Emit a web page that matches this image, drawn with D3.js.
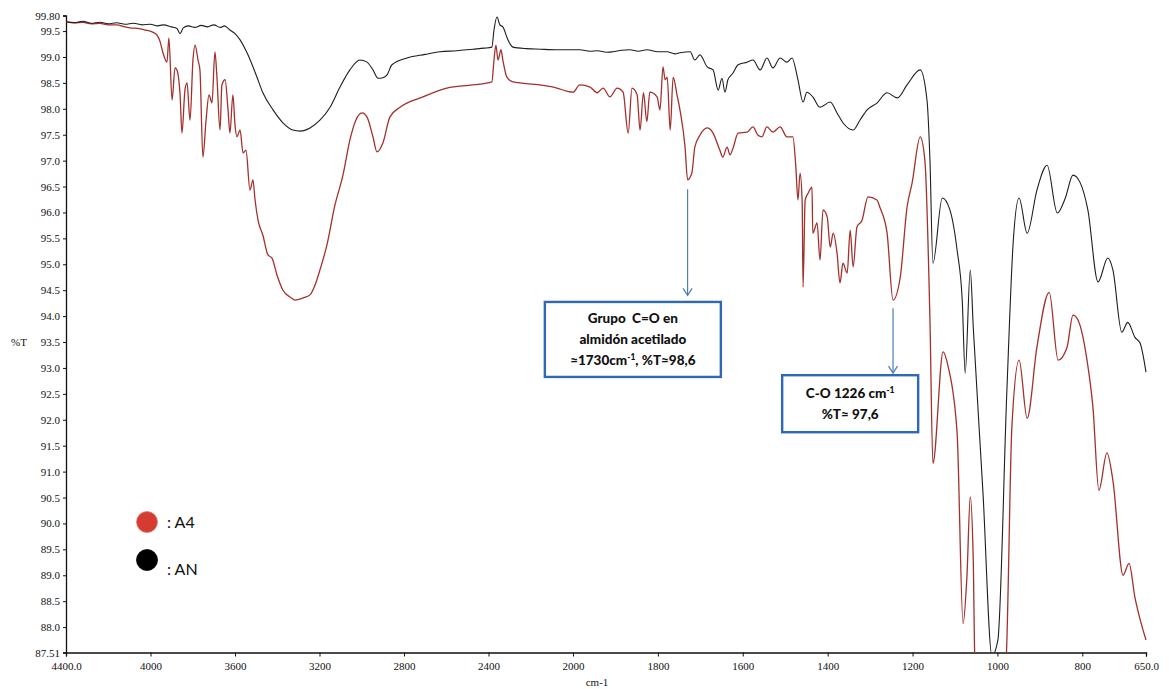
<!DOCTYPE html>
<html>
<head>
<meta charset="utf-8">
<script src="https://cdn.jsdelivr.net/npm/d3@7"></script>
<style>
  body { margin: 0; background: #fff; }
  svg { display: block; }
  .note text { white-space: pre; }
</style>
</head>
<body>
<svg id="chart" width="1169" height="689"></svg>
<script>
// FTIR spectra: native starch (AN) and acetylated starch (A4)
const anWavenumber = [4400,4360,4320,4280,4240,4200,4160,4120,4080,4040,4000,3970,3940,3900,3875,3860,3845,3820,3790,3760,3730,3700,3670,3650,3624,3600,3576,3543,3496,3468,3420,3373,3326,3292,3245,3198,3150,3103,3056,3009,2975,2947,2923,2900,2881,2857,2786,2700,2630,2550,2474,2420,2384,2374,2360,2346,2332,2308,2284,2220,2157,2080,2000,
  1984,1960,1943,1920,1906,1885,1866,1846,1826,1800,1778,1760,1748,1724,1713,1701,1684,1670,1658,1649,1642,1635,1623,1611,1590,1576,1559,1543,1529,1512,1496,1484,1470,1458,1449,1435,1418,1394,1378,1364,1340,1324,1307,1284,1260,1236,1213,1182,1166,1159,1152,1130,1112,1095,1083,1076,1064,1057,1034,1013,999,978,963,949,930,907,883,859,840,822,806,787,763,740,728,707,693,676,664,650];
const anTransmittance = [99.68,99.66,99.69,99.65,99.67,99.64,99.66,99.63,99.65,99.62,99.63,99.60,99.62,99.58,99.55,99.45,99.56,99.60,99.57,99.61,99.58,99.62,99.57,99.60,99.52,99.45,99.33,99.08,98.61,98.31,97.98,97.73,97.59,97.57,97.63,97.78,98.03,98.42,98.75,98.94,98.90,98.75,98.59,98.60,98.65,98.85,98.98,99.05,99.10,99.12,99.15,99.17,99.19,99.52,99.77,99.62,99.58,99.33,99.19,99.16,99.15,99.14,99.14,
  99.14,99.11,99.12,99.09,99.10,99.13,99.14,99.11,99.14,99.10,99.10,99.06,99.08,99.10,98.94,99.04,98.81,98.75,98.36,98.59,98.32,98.56,98.69,98.85,98.90,98.94,98.75,98.98,98.79,98.98,98.90,98.98,98.56,98.13,98.32,98.23,98.03,98.13,97.92,97.73,97.59,97.78,97.98,98.11,98.31,98.21,98.46,98.75,98.17,97.01,95.02,96.28,96.05,95.27,94.31,92.90,94.89,93.79,90.58,87.45,87.75,92.51,95.41,96.28,95.60,96.43,96.91,95.99,96.28,96.72,96.59,96.05,94.66,95.12,94.89,93.69,93.88,93.59,93.48,92.92];

const a4Wavenumber = [4400,4360,4320,4280,4240,4200,4160,4120,4097,4060,4026,3990,3969,3955,3941,3922,3913,3898,3884,3875,3860,3851,3837,3827,3813,3799,3789,3775,3766,3752,3737,3723,3709,3695,3686,3671,3662,3647,3633,3624,3610,3600,3591,3576,3562,3548,3529,3515,3505,3491,3468,3444,3425,3401,3373,3340,3316,3278,3245,3221,3198,3165,3127,3089,3056,3028,2999,2975,2947,2928,2900,2867,2819,2710,2597,2474,2384,2374,2365,2355,2341,2332,2313,2284,2157,2076,2030,2000,
  1984,1960,1943,1929,1913,1896,1882,1870,1861,1849,1842,1834,1826,1819,1802,1795,1788,1783,1778,1771,1764,1755,1748,1736,1730,1720,1713,1701,1684,1670,1654,1647,1637,1630,1623,1611,1590,1576,1564,1555,1543,1529,1512,1496,1482,1475,1470,1465,1460,1458,1453,1446,1437,1435,1425,1418,1411,1401,1394,1387,1378,1371,1364,1354,1347,1340,1331,1319,1305,1284,1277,1260,1246,1229,1213,1201,1182,1171,1159,1152,1128,1116,1095,1081,1072,1064,1057,1053,1030,1000,980,966,949,930,907,878,857,836,822,810,789,775,761,742,728,704,690,676,662,650];
const a4Transmittance = [99.68,99.66,99.67,99.64,99.65,99.62,99.62,99.58,99.56,99.55,99.52,99.48,99.42,99.30,99.08,98.90,99.37,98.17,98.79,98.75,98.27,97.53,98.36,98.50,97.78,98.94,99.23,98.94,98.75,97.07,97.78,98.27,98.11,99.10,98.65,97.59,98.46,98.56,97.98,97.53,98.27,97.69,97.46,97.59,97.15,97.20,96.43,96.63,96.24,95.85,95.56,95.18,95.12,94.79,94.50,94.37,94.31,94.35,94.41,94.60,94.89,95.37,96.14,96.72,97.40,97.78,97.92,97.84,97.46,97.17,97.34,97.84,98.03,98.23,98.40,98.46,98.52,98.94,99.23,98.94,99.14,98.94,98.61,98.52,98.46,98.40,98.34,98.32,
  98.46,98.42,98.31,98.40,98.23,98.40,98.32,97.53,98.40,98.27,97.59,98.31,97.75,98.32,98.23,97.98,98.81,98.56,98.61,97.59,98.61,98.27,97.98,97.26,96.63,96.76,97.26,97.49,97.63,97.53,97.20,97.07,97.26,97.11,97.24,97.53,97.55,97.65,97.49,97.46,97.65,97.55,97.65,97.46,97.46,96.88,96.24,96.76,96.18,94.56,96.24,96.37,96.49,95.60,95.80,95.08,96.05,95.91,95.33,95.60,95.22,94.64,95.02,94.83,95.66,94.95,95.72,95.85,96.30,96.24,96.10,95.60,94.31,94.75,96.10,96.57,97.46,97.01,93.92,91.16,93.31,93.02,91.74,88.07,88.96,90.51,89.29,87.30,86.40,86.40,87.30,91.86,93.15,92.03,93.40,94.46,93.15,93.40,94.02,93.92,93.15,92.24,90.64,91.36,90.83,89.00,89.23,88.57,88.09,87.75];

const xTickValues = [4400,4000,3600,3200,2800,2400,2000,1800,1600,1400,1200,1000,800,650];
const xTickLabels = ["4400.0","4000","3600","3200","2800","2400","2000","1800","1600","1400","1200","1000","800","650.0"];
const yTickValues = [99.80,99.5,99.0,98.5,98.0,97.5,97.0,96.5,96.0,95.5,95.0,94.5,94.0,93.5,93.0,92.5,92.0,91.5,91.0,90.5,90.0,89.5,89.0,88.5,88.0,87.51];
const yTickLabels = ["99.80","99.5","99.0","98.5","98.0","97.5","97.0","96.5","96.0","95.5","95.0","94.5","94.0","93.5","93.0","92.5","92.0","91.5","91.0","90.5","90.0","89.5","89.0","88.5","88.0","87.51"];

// Band annotations: arrow position (wavenumber, from/to %T) and text box centre
const bandNotes = [
  { wn: 1730, tFrom: 96.45, tTo: 94.40, boxWn: 1859, boxT: 93.55, w: 176, h: 75,
    lines: [[["Grupo  C=O en"]], [["almidón acetilado"]], [["≈1730cm"], ["-1", "sup"], [", %T≈98,6"]]] },
  { wn: 1246, tFrom: 94.15, tTo: 92.90, boxWn: 1347, boxT: 92.31, w: 136, h: 57,
    lines: [[["C-O 1226 cm"], ["-1", "sup"]], [["%T≈ 97,6"]]] }
];

const legendItems = [
  { label: ": A4", color: "#d63b32" },
  { label: ": AN", color: "#000000" }
];

const svg = d3.select("#chart");

// The wavenumber axis doubles its scale below 2000 cm-1
const x = d3.scaleLinear().domain([4400, 2000, 650]).range([66, 573, 1146]);
const y = d3.scaleLinear().domain([87.51, 99.80]).range([652.5, 15.5]);

svg.append("defs").append("clipPath").attr("id", "plot-clip")
  .append("rect")
  .attr("x", x(4400)).attr("y", y(99.80) - 2)
  .attr("width", x(650) - x(4400) + 2).attr("height", y(87.51) - y(99.80) + 2);

const serif = "'Liberation Serif', 'Times New Roman', serif";

// Axes
const xAxis = d3.axisBottom(x).tickValues(xTickValues)
  .tickFormat((d, i) => xTickLabels[i]).tickSizeOuter(0).tickSize(4);
const gx = svg.append("g").attr("transform", `translate(0,${y(87.51)})`).call(xAxis);
gx.selectAll("text").attr("font-family", serif).attr("font-size", 11).attr("fill", "#111").attr("dy", "0.95em");

const yAxis = d3.axisLeft(y).tickValues(yTickValues)
  .tickFormat((d, i) => yTickLabels[i]).tickSizeOuter(0).tickSize(3).tickPadding(3);
const gy = svg.append("g").attr("transform", `translate(${x(4400)},0)`).call(yAxis);
gy.selectAll("text").attr("font-family", serif).attr("font-size", 11).attr("fill", "#111");

svg.selectAll(".domain").attr("stroke", "#111").attr("stroke-width", 1.3);
svg.selectAll(".tick line").attr("stroke", "#111");

svg.append("text").attr("x", 19).attr("y", (y(93.5) + 4))
  .attr("text-anchor", "middle").attr("font-family", serif).attr("font-size", 11).attr("fill", "#111").text("%T");
svg.append("text").attr("x", 597).attr("y", 686)
  .attr("text-anchor", "middle").attr("font-family", serif).attr("font-size", 11).attr("fill", "#111").text("cm-1");

// Spectra
const line = d3.line().x(d => x(d[0])).y(d => y(d[1])).curve(d3.curveMonotoneX);
const a4Data = a4Wavenumber.map((w, i) => [w, a4Transmittance[i]]);
const anData = anWavenumber.map((w, i) => [w, anTransmittance[i]]);

const plot = svg.append("g").attr("clip-path", "url(#plot-clip)");
plot.append("path").datum(a4Data).attr("d", line)
  .attr("fill", "none").attr("stroke", "#a3302d").attr("stroke-width", 1.3).attr("stroke-linejoin", "round");
plot.append("path").datum(anData).attr("d", line)
  .attr("fill", "none").attr("stroke", "#1e1e1e").attr("stroke-width", 1.1).attr("stroke-linejoin", "round");

// Annotations
const noteFont = "Lato, 'Open Sans', sans-serif";
bandNotes.forEach(n => {
  const ax = x(n.wn), y0 = y(n.tFrom), y1 = y(n.tTo);
  const g = svg.append("g").attr("class", "note");
  g.append("line").attr("x1", ax).attr("x2", ax).attr("y1", y0).attr("y2", y1)
    .attr("stroke", "#4a7ebf").attr("stroke-width", 1.2);
  g.append("path").attr("d", `M${ax - 4.5},${y1 - 7} L${ax},${y1} L${ax + 4.5},${y1 - 7}`)
    .attr("fill", "none").attr("stroke", "#4a7ebf").attr("stroke-width", 1.2);

  const cx = x(n.boxWn), cy = y(n.boxT);
  g.append("rect").attr("x", cx - n.w / 2).attr("y", cy - n.h / 2)
    .attr("width", n.w).attr("height", n.h)
    .attr("fill", "#fff").attr("stroke", "#2f68b6").attr("stroke-width", 2.4);
  const lh = 21;
  const firstBase = cy - (n.lines.length - 1) * lh / 2 + 4.5;
  n.lines.forEach((parts, li) => {
    const t = g.append("text").attr("x", cx).attr("y", firstBase + li * lh)
      .attr("text-anchor", "middle").attr("font-family", noteFont)
      .attr("font-weight", 900).attr("font-size", 13.5).attr("fill", "#111");
    parts.forEach((p, pi) => {
      const ts = t.append("tspan").text(p[0]);
      if (p[1] === "sup") {
        ts.attr("font-size", 8.5).attr("dy", -5);
      } else if (pi > 0) {
        ts.attr("dy", 5);
      }
    });
  });
});

// Legend
const lg = svg.append("g");
legendItems.forEach((it, i) => {
  const cy = 522 + i * 38;
  lg.append("circle").attr("cx", 147).attr("cy", cy).attr("r", 10.5)
    .attr("fill", it.color).attr("stroke", i === 0 ? "#e07a72" : "#000").attr("stroke-width", 0.8);
  lg.append("text").attr("x", 167).attr("y", cy + 6 + i * 9)
    .attr("font-family", noteFont).attr("font-size", 16).attr("fill", "#111").text(it.label);
});
</script>
</body>
</html>
